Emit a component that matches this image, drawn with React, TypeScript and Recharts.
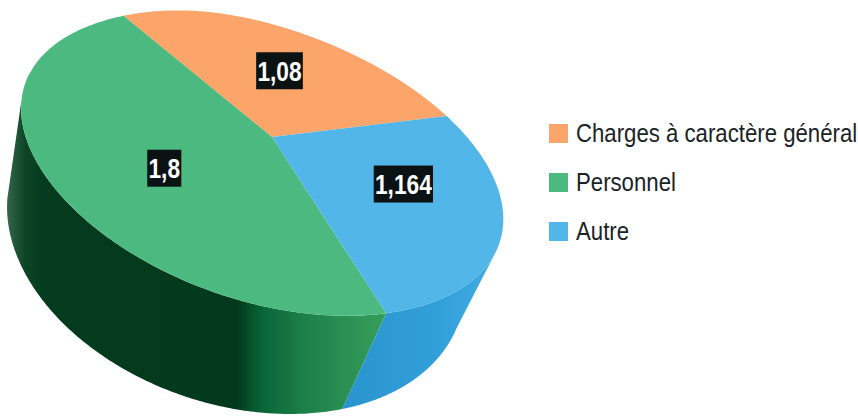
import React from "react";
import { PieChart, Pie, Legend } from "recharts";

// ---- data ----
const categories = ["Charges à caractère général", "Personnel", "Autre"];
const values = [1.08, 1.8, 1.164];
const colors = ["#fba56a", "#4cba80", "#52b6e8"];
const chartData = categories.map((name, i) => ({ name, value: values[i], fill: colors[i] }));

// ---- projection of the disc to the image ----
const rad = Math.PI / 180;
const TOP = { cx: 262.5, cy: 163, a: 252, b: 133, phi: 21.2 * rad, warp: 0.032 };
const BOTTOM = { cx: 236, cy: 246.5, a: 235.4, b: 158.3, phi: 18.3 * rad, warp: 0 };
const BOTTOM_SHIFT = 3 * rad;
const SIDE_FROM = 0;
const SIDE_TO = 168 * rad;
const PERSP_S = 0.152;
const PERSP_BETA = 13.5 * rad;
const APEX = { x: 272, y: 137 };
const START_ANGLE = 49.8;
const labelPlacement = [
  [0.606, -1.75],
  [0.515, -6.5],
  [0.568, -8.8],
];

const bump = (t: number, centre: number, width: number, amp: number) =>
  amp * Math.exp(-Math.pow((t / rad - centre) / width, 2));

const ellipsePoint = (e: typeof TOP, t: number) => {
  const k = e.warp ? 1 + e.warp * Math.cos(2 * t + 110 * rad) + bump(t, 90, 50, 0.027) + bump(t, -115, 25, 0.018) : 1;
  const u = k * e.a * Math.cos(t);
  const v = k * e.b * Math.sin(t);
  return { x: e.cx + u * Math.cos(e.phi) - v * Math.sin(e.phi), y: e.cy + u * Math.sin(e.phi) + v * Math.cos(e.phi) };
};

// recharts angle (ccw, degrees) -> parameter on the top ellipse
const paramOf = (angleDeg: number) => {
  const theta = (90 - angleDeg) * rad - PERSP_BETA;
  const qx = Math.cos(theta);
  const qy = Math.sin(theta);
  const s = PERSP_S;
  const den = 1 + s * qx;
  const alpha = Math.atan2((qy * Math.sqrt(1 - s * s)) / den, (qx + s) / den) + PERSP_BETA;
  return Math.atan2(-Math.cos(alpha), Math.sin(alpha));
};

const rimPoint = (angleDeg: number) => ellipsePoint(TOP, paramOf(angleDeg));
const toPath = (pts: { x: number; y: number }[]) =>
  pts.map((p, i) => `${i ? "L" : "M"}${p.x.toFixed(2)} ${p.y.toFixed(2)}`).join(" ") + " Z";

const sideFills = ["#d98a55", "url(#greenSide)", "url(#blueSide)"];

const Slice3D = (props: any) => {
  const { startAngle, endAngle, cx, cy, index, fill } = props;
  const steps = 240;
  const rim: { x: number; y: number }[] = [];
  const top: { x: number; y: number }[] = [{ x: cx, y: cy }];
  const low: { x: number; y: number }[] = [];
  for (let i = 0; i <= steps; i++) {
    const ang = startAngle + ((endAngle - startAngle) * i) / steps;
    const t = paramOf(ang);
    top.push(ellipsePoint(TOP, t));
    if (t >= SIDE_FROM && t <= SIDE_TO) {
      rim.push(ellipsePoint(TOP, t));
      low.push(ellipsePoint(BOTTOM, t + BOTTOM_SHIFT));
    }
  }
  return (
    <g>
      <defs>
        <linearGradient id="greenSide" gradientUnits="userSpaceOnUse" x1="6" y1="0" x2="392" y2="0">
          <stop offset="0" stopColor="#3a6650" />
          <stop offset="0.02" stopColor="#245a3c" />
          <stop offset="0.05" stopColor="#0c4525" />
          <stop offset="0.1" stopColor="#043a1e" />
          <stop offset="0.6" stopColor="#03391d" />
          <stop offset="0.63" stopColor="#05502a" />
          <stop offset="0.665" stopColor="#096538" />
          <stop offset="0.76" stopColor="#1b7d47" />
          <stop offset="0.88" stopColor="#2a9053" />
          <stop offset="1" stopColor="#3aa05c" />
        </linearGradient>
        <linearGradient id="blueSide" gradientUnits="userSpaceOnUse" x1="345" y1="0" x2="500" y2="0">
          <stop offset="0" stopColor="#2995ce" />
          <stop offset="0.6" stopColor="#319fd9" />
          <stop offset="1" stopColor="#45ade4" />
        </linearGradient>
      </defs>
      {rim.length > 1 && <path d={toPath([...rim, ...low.reverse()])} fill={sideFills[index]} />}
      <path d={toPath(top)} fill={fill} />
    </g>
  );
};

const FONT = "'Liberation Sans', Arial, sans-serif";

const renderLabel = (props: any) => {
  const { midAngle, value, index, cx, cy } = props;
  const [frac, shift] = labelPlacement[index];
  const rimP = rimPoint(midAngle - shift);
  const x = cx + (rimP.x - cx) * frac;
  const y = cy + (rimP.y - cy) * frac;
  const text = String(value).replace(".", ",");
  const textW = (text.length - 1) * 12.6 + 6.4;
  const w = textW + 2.5;
  return (
    <g>
      <rect x={x - w / 2} y={y - 18.5} width={w} height={37} fill="#0b1214" />
      <text
        x={x}
        y={y + 10}
        textAnchor="middle"
        fill="#ffffff"
        fontFamily={FONT}
        fontWeight="bold"
        fontSize={28}
        textLength={textW}
        lengthAdjust="spacingAndGlyphs"
      >
        {text}
      </text>
    </g>
  );
};

const renderLegend = () => (
  <div style={{ fontFamily: FONT, fontSize: 25.5, color: "#1a2326", whiteSpace: "nowrap" }}>
    {categories.map((c, i) => (
      <div key={c} style={{ display: "flex", alignItems: "center", height: 49 }}>
        <span style={{ flex: "0 0 19px", width: 19, height: 19, background: colors[i], marginRight: 8 }} />
        <span style={{ display: "inline-block", transform: "scaleX(0.87)", transformOrigin: "left center" }}>{c}</span>
      </div>
    ))}
  </div>
);

export default function App() {
  return (
    <div style={{ position: "absolute", left: 0, top: 0, width: 858, height: 416, background: "#fff", overflow: "hidden" }}>
      <PieChart width={858} height={416} margin={{ top: 0, right: 0, bottom: 0, left: 0 }}>
        <Pie
          data={chartData}
          dataKey="value"
          nameKey="name"
          cx={APEX.x}
          cy={APEX.y}
          outerRadius={120}
          startAngle={START_ANGLE}
          endAngle={START_ANGLE + 360}
          stroke="none"
          shape={Slice3D}
          label={renderLabel}
          labelLine={false}
          isAnimationActive={false}
        />
        <Legend
          layout="vertical"
          align="right"
          verticalAlign="top"
          content={renderLegend}
          wrapperStyle={{ position: "absolute", left: 549, top: 109, width: 309, right: "auto", bottom: "auto" }}
        />
      </PieChart>
    </div>
  );
}
